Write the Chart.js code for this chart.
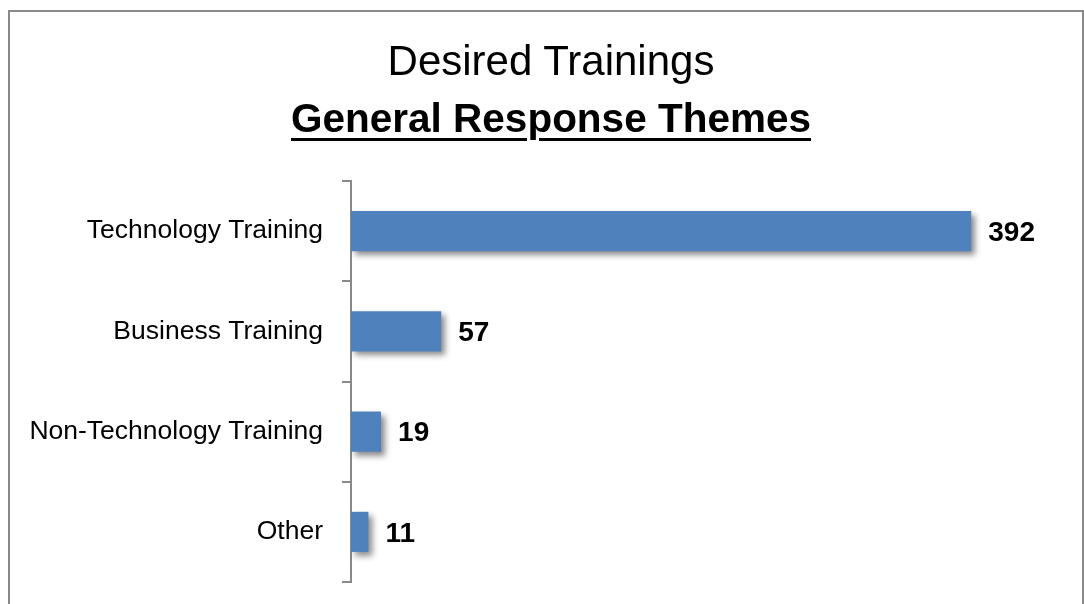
<!DOCTYPE html>
<html>
<head>
<meta charset="utf-8">
<title>Desired Trainings</title>
<script src="https://cdn.jsdelivr.net/npm/chart.js@4"></script>
<style>
    body { margin: 0; background: #fff; }
    #wrap { position: relative; width: 1084px; height: 604px; overflow: hidden; }
    #myChart { position: absolute; left: 0; top: 0; }
    .heading {
        position: absolute; left: 0; width: 1102px; text-align: center;
        font-family: "Liberation Sans", Arial, sans-serif; color: #000; margin: 0;
        white-space: nowrap;
    }
    #title1 { top: 40px; font-size: 42px; font-weight: normal; line-height: 42px; }
    #title2 { top: 98px; font-size: 40.5px; font-weight: bold; line-height: 40.5px; text-decoration: underline; text-decoration-thickness: 3px; text-underline-offset: 6px; }
</style>
</head>
<body>
<div id="wrap">
    <canvas id="myChart" width="1084" height="604"></canvas>
    <h1 class="heading" id="title1">Desired Trainings</h1>
    <h2 class="heading" id="title2">General Response Themes</h2>
</div>
<script>
// categories and counts
const categories = ['Technology Training', 'Business Training', 'Non-Technology Training', 'Other'];
const responses = [392, 57, 19, 11];
const xMin = 0;
const xMax = 450;

const gray = '#898989';
const labelFont = '"Liberation Sans", Arial, sans-serif';

// outer frame of the chart box (no bottom edge, it runs past the page)
const frame = {
    id: 'frame',
    beforeDraw(chart) {
        const ctx = chart.ctx;
        ctx.save();
        ctx.strokeStyle = gray;
        ctx.lineWidth = 2;
        ctx.beginPath();
        ctx.moveTo(9, 604);
        ctx.lineTo(9, 11);
        ctx.lineTo(1083, 11);
        ctx.lineTo(1083, 604);
        ctx.stroke();
        ctx.restore();
    }
};

// drop shadow under bars + bold value labels
const barExtras = {
    id: 'barExtras',
    beforeDatasetsDraw(chart) {
        const ctx = chart.ctx;
        ctx.save();
        ctx.shadowColor = 'rgba(0,0,0,0.45)';
        ctx.shadowBlur = 6;
        ctx.shadowOffsetX = 4;
        ctx.shadowOffsetY = 4;
    },
    afterDatasetsDraw(chart) {
        const ctx = chart.ctx;
        ctx.restore();
        ctx.save();
        ctx.font = 'bold 28px ' + labelFont;
        ctx.fillStyle = '#000';
        ctx.textAlign = 'left';
        ctx.textBaseline = 'middle';
        chart.getDatasetMeta(0).data.forEach((bar, i) => {
            ctx.fillText(responses[i], bar.x + 17, bar.y + 2);
        });
        ctx.restore();
    }
};

const ctx = document.getElementById('myChart').getContext('2d');
const myChart = new Chart(ctx, {
    type: 'bar',
    data: {
        labels: categories,
        datasets: [{
            label: 'Responses',
            data: responses,
            backgroundColor: '#4F81BD',
            borderWidth: 0,
            barPercentage: 0.4,
            categoryPercentage: 1
        }]
    },
    options: {
        indexAxis: 'y',
        responsive: false,
        animation: false,
        events: [],
        layout: {
            padding: { top: 181, bottom: 22, left: 0, right: 21 }
        },
        plugins: {
            legend: { display: false },
            title: { display: false },
            tooltip: { enabled: false }
        },
        scales: {
            x: {
                display: false,
                min: xMin,
                max: xMax
            },
            y: {
                afterFit(scale) {
                    scale.width = 351;
                    scale.paddingTop = 0;
                    scale.paddingBottom = 0;
                },
                grid: {
                    offset: true,
                    drawOnChartArea: false,
                    drawTicks: true,
                    tickLength: 9,
                    color: gray,
                    lineWidth: 2
                },
                border: { display: true, color: gray, width: 2 },
                ticks: {
                    padding: 19,
                    color: '#000',
                    font: { family: labelFont, size: 26.5 }
                }
            }
        }
    },
    plugins: [frame, barExtras]
});
</script>
</body>
</html>
